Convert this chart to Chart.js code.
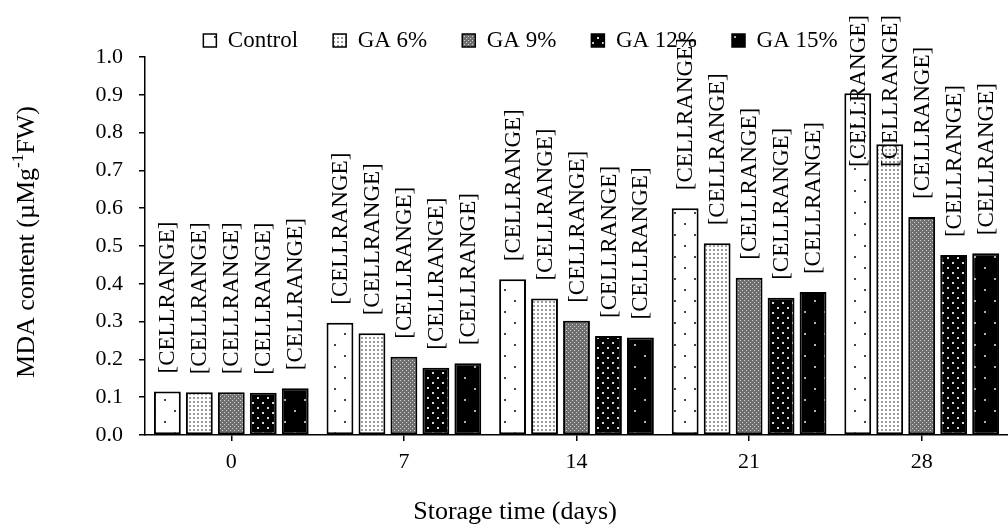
<!DOCTYPE html>
<html>
<head>
<meta charset="utf-8">
<script src="https://cdn.jsdelivr.net/npm/chart.js@4/dist/chart.umd.min.js"></script>
<style>
html, body { margin: 0; padding: 0; background: #fff; overflow: hidden; }
#wrap { width: 1008px; height: 525px; position: relative; }
</style>
</head>
<body>
<div id="wrap"><canvas id="chart"></canvas></div>
<script>
// storage days on the x axis
const days = ['0', '7', '14', '21', '28'];
const seriesNames = ['Control', 'GA 6%', 'GA 9%', 'GA 12%', 'GA 15%'];

// MDA content
const control = [0.115, 0.297, 0.412, 0.600, 0.904];
const ga6 = [0.113, 0.269, 0.361, 0.507, 0.769];
const ga9 = [0.113, 0.207, 0.302, 0.416, 0.577];
const ga12 = [0.112, 0.178, 0.262, 0.363, 0.476];
const ga15 = [0.124, 0.190, 0.258, 0.378, 0.481];

const yMin = 0;
const yMax = 1.0;
const yStep = 0.1;

const labelText = '[CELLRANGE]';
const yTitle = ['MDA content (µMg', '-1', 'FW)'];
const xTitle = 'Storage time (days)';

const serif = '"Liberation Serif", "Times New Roman", serif';

function makePattern(w, h, bg, dotColor, dots, dotSize) {
    const c = document.createElement('canvas');
    c.width = w;
    c.height = h;
    const g = c.getContext('2d');
    g.fillStyle = bg;
    g.fillRect(0, 0, w, h);
    g.fillStyle = dotColor;
    dots.forEach(([x, y]) => g.fillRect(x, y, dotSize, dotSize));
    return g.createPattern(c, 'repeat');
}

const patterns = [
    makePattern(20, 22, '#fff', '#444', [[4, 3], [14, 14]], 2),
    makePattern(4, 4, '#fff', '#9a9a9a', [[1, 1]], 2),
    makePattern(4, 4, '#6f6f6f', '#d4d4d4', [[0, 0], [2, 2]], 1),
    makePattern(10, 10, '#000', '#d8d8d8', [[2, 2], [7, 7]], 2),
    makePattern(20, 22, '#000', '#b0b0b0', [[4, 3], [14, 14]], 2)
];

const values = [control, ga6, ga9, ga12, ga15];

// "[CELLRANGE]" labels above every bar, pushed down when they hit the top
const cellLabels = {
    id: 'cellLabels',
    afterDatasetsDraw(chart) {
        const ctx = chart.ctx;
        ctx.save();
        ctx.font = '23px ' + serif;
        ctx.fillStyle = '#000';
        ctx.textAlign = 'left';
        ctx.textBaseline = 'middle';
        const len = ctx.measureText(labelText).width;
        chart.data.datasets.forEach((ds, i) => {
            chart.getDatasetMeta(i).data.forEach(bar => {
                let start = bar.y - 18;
                if (start - len < 15) start = 15 + len;
                ctx.save();
                ctx.translate(bar.x + 1, start);
                ctx.rotate(-Math.PI / 2);
                ctx.fillText(labelText, 0, 0);
                ctx.restore();
            });
        });
        ctx.restore();
    }
};

const axisTitles = {
    id: 'axisTitles',
    afterDraw(chart) {
        const ctx = chart.ctx;
        ctx.save();
        ctx.fillStyle = '#000';
        ctx.textBaseline = 'middle';

        // y title with superscript -1
        const big = '26px ' + serif;
        const small = '17px ' + serif;
        ctx.font = big;
        const w1 = ctx.measureText(yTitle[0]).width;
        const w3 = ctx.measureText(yTitle[2]).width;
        ctx.font = small;
        const w2 = ctx.measureText(yTitle[1]).width;
        const total = w1 + w2 + w3;
        ctx.translate(27, 242);
        ctx.rotate(-Math.PI / 2);
        ctx.textAlign = 'left';
        ctx.font = big;
        ctx.fillText(yTitle[0], -total / 2, 0);
        ctx.font = small;
        ctx.fillText(yTitle[1], -total / 2 + w1, -8);
        ctx.font = big;
        ctx.fillText(yTitle[2], -total / 2 + w1 + w2, 0);
        ctx.restore();

        ctx.save();
        ctx.fillStyle = '#000';
        ctx.font = '26px ' + serif;
        ctx.textAlign = 'center';
        ctx.textBaseline = 'middle';
        ctx.fillText(xTitle, 515, 512);
        ctx.restore();
    }
};

Chart.defaults.color = '#000';
Chart.defaults.font.family = serif;
Chart.defaults.font.size = 22;

new Chart(document.getElementById('chart'), {
    type: 'bar',
    data: {
        labels: days,
        datasets: seriesNames.map((name, i) => ({
            label: name,
            data: values[i],
            backgroundColor: patterns[i],
            borderColor: '#000',
            borderWidth: 2,
            borderSkipped: false,
            categoryPercentage: 0.926,
            barPercentage: 0.84
        }))
    },
    options: {
        responsive: true,
        maintainAspectRatio: false,
        animation: false,
        layout: {
            padding: { left: 20, right: -13, top: -6, bottom: 0 }
        },
        plugins: {
            legend: {
                position: 'top',
                maxHeight: 63,
                labels: {
                    boxWidth: 13,
                    boxHeight: 13,
                    padding: 35,
                    font: { size: 23, family: serif },
                    generateLabels(chart) {
                        const items = Chart.defaults.plugins.legend.labels.generateLabels(chart);
                        items.forEach(it => { it.lineWidth = 1.5; });
                        return items;
                    }
                }
            },
            tooltip: { enabled: false }
        },
        scales: {
            x: {
                grid: {
                    offset: false,
                    drawOnChartArea: false,
                    drawTicks: true,
                    tickLength: 6,
                    color: '#000',
                    lineWidth: 1.5
                },
                border: { display: true, color: '#000', width: 1.5 },
                ticks: { padding: 8, font: { size: 22, family: serif } },
                afterFit(scale) { scale.height = 90; }
            },
            y: {
                min: yMin,
                max: yMax,
                grid: {
                    drawOnChartArea: false,
                    drawTicks: true,
                    tickLength: 6,
                    color: '#000',
                    lineWidth: 1.5
                },
                border: { display: true, color: '#000', width: 1.5 },
                ticks: {
                    stepSize: yStep,
                    padding: 16,
                    font: { size: 22, family: serif },
                    callback: v => v.toFixed(1)
                },
                afterFit(scale) { scale.width = 125; }
            }
        }
    },
    plugins: [cellLabels, axisTitles]
});
</script>
</body>
</html>
